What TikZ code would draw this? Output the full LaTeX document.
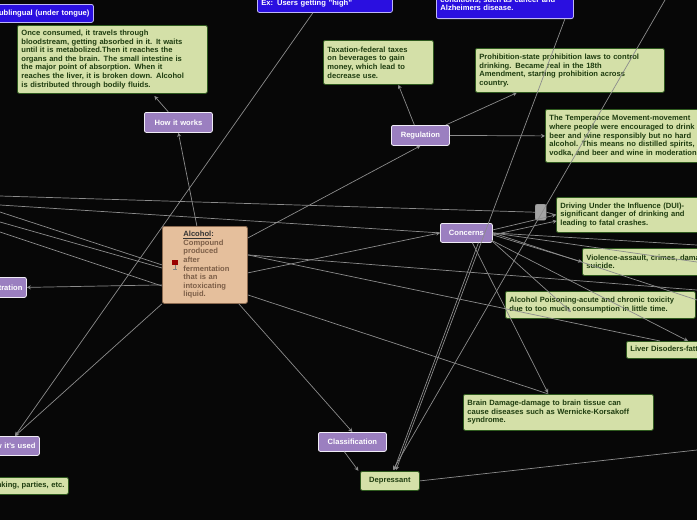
\documentclass[tikz,border=0pt]{standalone}
\usepackage{fontspec}
\setmainfont{Liberation Sans}
\usetikzlibrary{arrows.meta,calc}
\definecolor{bg}{HTML}{070707}
\definecolor{gfill}{HTML}{D4E0A8}
\definecolor{gdraw}{HTML}{2E5A1E}
\definecolor{gtext}{HTML}{1F3D10}
\definecolor{pfill}{HTML}{9B7FC0}
\definecolor{bfill}{HTML}{2A0FE0}
\definecolor{pch}{HTML}{E5BF9C}
\definecolor{pchd}{HTML}{8B6A50}
\definecolor{ln}{HTML}{8C8C8C}
\tikzset{
 box/.style={draw,rounded corners=2pt,line width=0.8pt,anchor=north west,inner sep=4pt,align=left,font=\fontsize{7.6}{8.6}\selectfont\bfseries},
 green/.style={box,fill=gfill,draw=gdraw,text=gtext},
 purp/.style={box,fill=pfill,draw=white!85!pfill,text=white,align=center},
 blue/.style={box,fill=bfill,draw=white!70!bfill,text=white},
 con/.style={draw=ln,line width=0.7pt},
 arr/.style={con,-{Stealth[length=4pt,width=4pt]}},
}
\begin{document}
\begin{tikzpicture}[x=1pt,y=-1pt]
\fill[bg] (0,0) rectangle (697,520);
\useasboundingbox (0,0) rectangle (697,520);
\clip (0,0) rectangle (697,520);
% nodes
\node[blue,text width=150,minimum height=18,align=right] (subl) at (-65,4) {Sublingual (under tongue)};
\node[blue,text width=127,minimum height=18] (high) at (257,-6) {Ex: Users getting "high"};
\node[blue,text width=129,minimum height=30,anchor=south west] (cond) at (436,19) {conditions, such as cancer and\\Alzheimers disease.};
\node[green,text width=182,minimum height=68] (once) at (17,25) {Once consumed, it travels through\\bloodstream, getting absorbed in it. It waits\\until it is metabolized.Then it reaches the\\organs and the brain. The small intestine is\\the major point of absorption. When it\\reaches the liver, it is broken down. Alcohol\\is distributed through bodily fluids.};
\node[purp,text width=60,minimum height=20] (how) at (144,112) {How it works};
\node[green,text width=102,minimum height=44] (tax) at (323,40) {Taxation-federal taxes\\on beverages to gain\\money, which lead to\\decrease use.};
\node[green,text width=181,minimum height=44] (proh) at (475,48) {Prohibition-state prohibition laws to control\\drinking. Became real in the 18th\\Amendment, starting prohibition across\\country.};
\node[purp,text width=50,minimum height=20] (reg) at (391,125) {Regulation};
\node[green,text width=190,minimum height=53] (temp) at (545,109) {The Temperance Movement-movement\\where people were encouraged to drink\\beer and wine responsibly but no hard\\alcohol. This means no distilled spirits,\\vodka, and beer and wine in moderation.};
\node[green,text width=190,minimum height=35] (dui) at (556,197) {Driving Under the Influence (DUI)-\\significant danger of drinking and\\leading to fatal crashes.};
\node[draw=ln,fill=ln!80,rounded corners=2pt,minimum width=11,minimum height=16,inner sep=0,anchor=north west] (gr) at (535,204) {};
\node[purp,text width=44,minimum height=19] (conc) at (440,223) {Concerns};
\node[box,fill=pch,draw=pchd,text width=77,minimum height=77,inner sep=4pt] (alc) at (162,226) {\hspace*{17pt}\parbox[t]{58pt}{\color{black!80}\underline{Alcohol}:\\\color{pchd!90!black}Compound\\produced\\after\\fermentation\\that is an\\intoxicating\\liquid.}};
\fill[red!60!black] (172,260) rectangle (178,265);
\draw[gray,line width=0.6pt] (175,265) -- (175,269) (173,269) -- (177,269);
\node[green,text width=190,minimum height=27] (viol) at (582,248) {Violence-assault, crimes, damages,\\suicide.};
\node[green,text width=182,minimum height=27] (pois) at (505,291) {Alcohol Poisoning-acute and chronic toxicity\\due to too much consumption in little time.};
\node[green,text width=120,minimum height=17] (liv) at (626,341) {Liver Disoders-fatty liver};
\node[green,text width=182,minimum height=36] (brain) at (463,394) {Brain Damage-damage to brain tissue can\\cause diseases such as Wernicke-Korsakoff\\syndrome.};
\node[purp,text width=60,minimum height=19] (cls) at (318,432) {Classification};
\node[green,text width=51,minimum height=19,align=center] (dep) at (360,471) {Depressant};
\node[purp,text width=70,minimum height=19,align=right] (used) at (-39,436) {How it's used};
\node[green,text width=150,minimum height=17,align=right] (soc) at (-90,477) {Social drinking, parties, etc.};
\node[purp,text width=70,minimum height=20,align=right] (adm) at (-52,277) {Administration};
\coordinate (l1) at (0,196); \coordinate (l2) at (0,205); \coordinate (l3) at (0,212);
\coordinate (l4) at (0,222); \coordinate (l5) at (0,232); \coordinate (tr) at (665,0);
\coordinate (re) at (697,450); \coordinate (rr1) at (697,290); \coordinate (rr2) at (697,245);
% connectors
\draw[arr] ($(alc.north)+(-8,0)$) -- (how.south);
\draw[arr] ($(how.north)+(-10,0)$) -- ++(-14,-16);
\draw[arr] ($(alc.north east)+(0,12)$) -- (reg.south);
\draw[arr] ($(reg.north)+(-6,0)$) -- ($(tax.south)+(20,0)$);
\draw[arr] ($(reg.north east)+(-4,0)$) -- ($(proh.south west)!0.22!(proh.south east)$);
\draw[arr] (reg.east) -- (temp.west);
\draw[arr] ($(alc.east)+(0,8)$) -- (conc.west);
\draw[arr] ($(alc.west)+(0,20)$) -- (adm.east);
\draw[arr] ($(alc.south east)+(-9,0)$) -- (cls.north);
\draw[arr] ($(cls.south)+(-8,0)$) -- ++(14,19);
\draw[arr] (alc.south west) -- (15,436);
\draw[arr] ($(high.south)+(-12,0)$) -- (15,436);
\draw[arr] ($(conc.east)+(0,-3)$) -- (dui.west);
\draw[arr] ($(conc.east)+(0,2)$) -- ++(64,-14);
\draw[arr] ($(conc.east)+(0,2)$) -- (viol.west);
\draw[arr] ($(conc.east)+(-2,7)$) -- (571,312);
\draw[arr] ($(conc.east)+(-2,7)$) -- (688,341);
\draw[arr] ($(conc.south)+(6,0)$) -- (548,393);
\draw[arr] ($(conc.south)+(12,0)$) -- (394,470);
\draw[arr] ($(cond.south)+(60,0)$) -- (396,470);
\draw[arr] (tr) -- (393,470);
\draw[con] (dep.east) -- (re);
\draw[con] (l1) -- (gr.west);
\draw[con] (l2) -- (conc.west);
\draw[con] (l3) -- (alc.west);
\draw[con] (l4) -- (162,268);
\draw[con] (l5) -- (162,286);
\draw[con] ($(alc.east)+(0,-10)$) -- (660,341);
\draw[con] ($(alc.east)+(0,30)$) -- ($(brain.north)+(-10,0)$);
\draw[con] ($(alc.east)+(0,-10)$) -- (rr1);
\draw[con] (conc.east) -- (rr2);
\draw[con] (conc.east) -- (697,262);
\draw[con] (conc.east) -- (697,300);
\draw[con] (gr.east) -- (dui.west);
\end{tikzpicture}
\end{document}
